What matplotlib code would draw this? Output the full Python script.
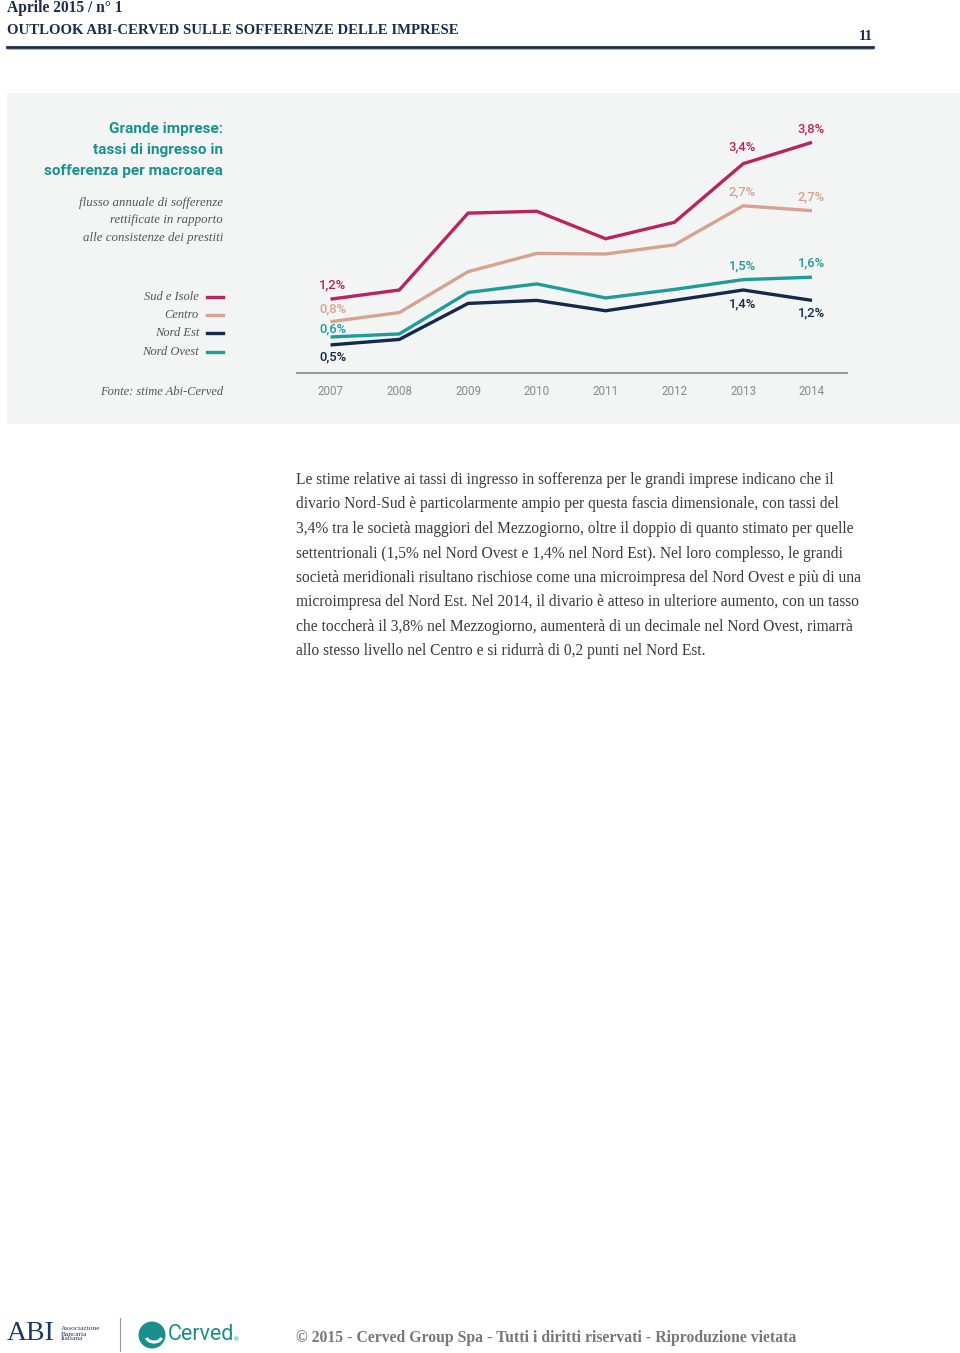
import matplotlib
matplotlib.use("Agg")
import matplotlib.pyplot as plt
from matplotlib.patches import Rectangle, Ellipse, Arc

# Dati: tassi di ingresso in sofferenza, grandi imprese (%)
ANNI = [2007, 2008, 2009, 2010, 2011, 2012, 2013, 2014]
SUD_ISOLE = [1.21, 1.36, 2.62, 2.65, 2.20, 2.47, 3.43, 3.78]
CENTRO = [0.84, 0.99, 1.66, 1.96, 1.95, 2.10, 2.74, 2.66]
NORD_EST = [0.46, 0.55, 1.14, 1.19, 1.02, 1.19, 1.36, 1.19]
NORD_OVEST = [0.59, 0.64, 1.32, 1.46, 1.23, 1.37, 1.53, 1.57]
SERIE = ["Sud e Isole", "Centro", "Nord Est", "Nord Ovest"]
COLORI = ["#b8245c", "#d6a390", "#14294b", "#1d9c99"]
# anni con etichetta del valore
ANNI_ETICHETTA = [2007, 2013, 2014]

PARAGRAFO = [
    "Le stime relative ai tassi di ingresso in sofferenza per le grandi imprese indicano che il",
    "divario Nord-Sud è particolarmente ampio per questa fascia dimensionale, con tassi del",
    "3,4% tra le società maggiori del Mezzogiorno, oltre il doppio di quanto stimato per quelle",
    "settentrionali (1,5% nel Nord Ovest e 1,4% nel Nord Est). Nel loro complesso, le grandi",
    "società meridionali risultano rischiose come una microimpresa del Nord Ovest e più di una",
    "microimpresa del Nord Est. Nel 2014, il divario è atteso in ulteriore aumento, con un tasso",
    "che toccherà il 3,8% nel Mezzogiorno, aumenterà di un decimale nel Nord Ovest, rimarrà",
    "allo stesso livello nel Centro e si ridurrà di 0,2 punti nel Nord Est.",
]

W, H = 960, 1353
fig = plt.figure(figsize=(W / 100, H / 100), dpi=100)
fig.patch.set_facecolor("white")

def fx(px):
    return px / W

def fy(py):
    return 1 - py / H

NAVY = "#1b2b4b"
TEAL = "#17938f"
SERIF = "Liberation Serif"
SANS = "Roboto"

# intestazione
fig.text(fx(7), fy(8.5), "Aprile 2015 / n° 1", family=SERIF, weight="bold",
         fontsize=11.2, color=NAVY, va="center")
fig.text(fx(7), fy(30), "OUTLOOK ABI-CERVED SULLE SOFFERENZE DELLE IMPRESE", family=SERIF,
         weight="bold", fontsize=10.6, color=NAVY, va="center")
fig.text(fx(873), fy(36), "11", family=SERIF, weight="bold", fontsize=10.5,
         color=NAVY, va="center", ha="right")
fig.add_artist(plt.Line2D([fx(7), fx(873)], [fy(47), fy(47)], color=NAVY, lw=2.0))
fig.add_artist(plt.Line2D([fx(7), fx(873)], [fy(49), fy(49)], color="#9aa3b3", lw=0.6))

# pannello grigio
fig.add_artist(Rectangle((fx(7), fy(424)), fx(960) - fx(7), fy(93) - fy(424),
                         transform=fig.transFigure, facecolor="#f3f4f4",
                         edgecolor="none", zorder=0))

# titolo e sottotitolo
fig.text(fx(223), fy(150), "Grande imprese:\ntassi di ingresso in\nsofferenza per macroarea",
         family=SANS, weight="bold", fontsize=11.1, color=TEAL, ha="right",
         va="center", linespacing=1.6)
fig.text(fx(223), fy(220.5), "flusso annuale di sofferenze\nrettificate in rapporto\nalle consistenze dei prestiti",
         family=SERIF, style="italic", fontsize=9.3, color="#555555", ha="right",
         va="center", linespacing=1.62)

# legenda manuale
for i, (nome, col) in enumerate(zip(SERIE, COLORI)):
    y = 297 + i * 18.2
    fig.text(fx(199), fy(y), nome, family=SERIF, style="italic", fontsize=9,
             color="#555555", ha="right", va="center")
    fig.add_artist(plt.Line2D([fx(207), fx(223)], [fy(y), fy(y)], color=col, lw=2.4))

fig.text(fx(223), fy(392), "Fonte: stime Abi-Cerved", family=SERIF, style="italic",
         fontsize=9, color="#555555", ha="right", va="center")

# grafico
ax = fig.add_axes([fx(297), fy(373), fx(847) - fx(297), fy(110) - fy(373)])
ax.set_facecolor("none")
ax.set_xlim(2006.513, 2014.509)
ax.set_ylim(0, 4.31)

valori = [SUD_ISOLE, CENTRO, NORD_EST, NORD_OVEST]
ordine = [1, 0, 3, 2]
for k in ordine:
    ax.plot(ANNI, valori[k], color=COLORI[k], lw=2.4, solid_joinstyle="miter",
            solid_capstyle="butt", zorder=3)

# spostamenti etichette (punti) per serie e anno
OFFSET = {
    ("Sud e Isole", 2007): 10, ("Sud e Isole", 2013): 12, ("Sud e Isole", 2014): 10,
    ("Centro", 2007): 9, ("Centro", 2013): 10, ("Centro", 2014): 10,
    ("Nord Ovest", 2007): 6, ("Nord Ovest", 2013): 10, ("Nord Ovest", 2014): 10,
    ("Nord Est", 2007): -9, ("Nord Est", 2013): -10, ("Nord Est", 2014): -9,
}
for nome, col, serie in zip(SERIE, COLORI, valori):
    for anno in ANNI_ETICHETTA:
        v = serie[ANNI.index(anno)]
        testo = f"{v:.1f}".replace(".", ",") + "%"
        dx = 1.5 if anno == 2007 else -0.5
        ax.annotate(testo, (anno, v), xytext=(dx, OFFSET[(nome, anno)]),
                    textcoords="offset points", ha="center", va="center",
                    family=SANS, weight="medium", fontsize=9.4, color=col, zorder=4)

for s in ["top", "right", "left"]:
    ax.spines[s].set_visible(False)
ax.spines["bottom"].set_color("#9c9c9c")
ax.spines["bottom"].set_linewidth(1.5)
ax.set_yticks([])
ax.set_xticks(ANNI)
ax.set_xticklabels([str(a) for a in ANNI], family=SANS, fontsize=8.4, color="#8a8a8a")
ax.tick_params(axis="x", length=0, pad=9)

# testo
for i, riga in enumerate(PARAGRAFO):
    fig.text(fx(296), fy(480 + i * 24.5), riga, family=SERIF, fontsize=11.2,
             color="#3a3a3a", va="center")

# piè di pagina
fig.text(fx(7), fy(1334), "ABI", family=SERIF, fontsize=20, color="#1f3766",
         va="center")
fig.text(fx(61), fy(1334), "Associazione\nBancaria\nItaliana", family=SERIF,
         fontsize=5.3, color="#1f3766", va="center", linespacing=1.0)
fig.add_artist(plt.Line2D([fx(120), fx(120)], [fy(1318), fy(1351)], color="#999999", lw=0.8))
fig.add_artist(Ellipse((fx(152), fy(1335)), 27 / W, 27 / H, transform=fig.transFigure,
                       facecolor="#1a8e8c", edgecolor="none"))
fig.add_artist(Arc((fx(154), fy(1336)), 16 / W, 12 / H, angle=0, theta1=190, theta2=350,
                   transform=fig.transFigure, color="white", lw=2.2))
fig.text(fx(168), fy(1334), "Cerved", family=SANS, fontsize=15.5, color="#1a8e8c",
         va="center")
fig.text(fx(234), fy(1340), "®", family=SANS, fontsize=4.5, color="#1a8e8c", va="center")

fig.text(fx(296), fy(1338),
         "© 2015 - Cerved Group Spa - Tutti i diritti riservati - Riproduzione vietata",
         family=SERIF, weight="bold", fontsize=11.3, color="#777777", va="center")

fig.savefig("out.png", dpi=100)
